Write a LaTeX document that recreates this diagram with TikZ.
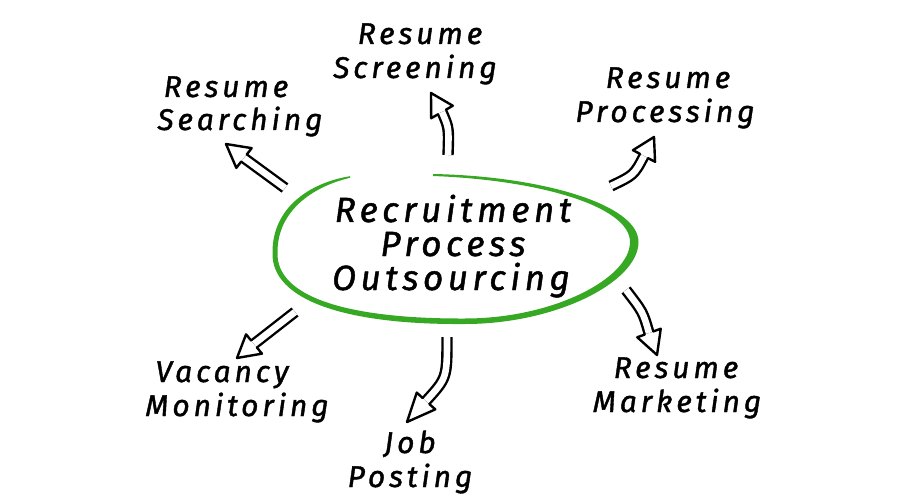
\documentclass[tikz,border=0pt]{standalone}
\usepackage{fontspec}
\newfontfamily\hand{Fira Sans}[LetterSpace=13,FakeBold=1.3]
\usetikzlibrary{calc}
\definecolor{ringgreen}{RGB}{55,168,35}
\tikzset{
  lbl/.style={font=\hand\itshape\fontsize{30}{30}\selectfont, anchor=base, inner sep=0pt},
  mainlbl/.style={font=\hand\itshape\fontsize{35}{35}\selectfont, anchor=base, inner sep=0pt},
  shaft/.style={draw=black, double=white, line width=2.4pt, double distance=6.6pt},
  head/.style={draw=black, line width=2.4pt, line join=round, line cap=round},
}
\newcommand{\hollowarrow}[4]{%
  \draw[shaft] (#1) .. controls (#2) .. (#3);
  \draw[head] ($(#3)!4.5pt!90:(#4)$) -- ($(#3)!12.5pt!90:(#4)$) -- (#4)
    -- ($(#3)!12.5pt!-90:(#4)$) -- ($(#3)!4.5pt!-90:(#4)$);
}
\begin{document}
\begin{tikzpicture}[x=1pt,y=-1pt]
\fill[white] (0,0) rectangle (900,500);
\path[use as bounding box] (0,0) rectangle (900,500);

% green ring (tapered open oval)
\fill[ringgreen]
 (433,174.0) .. controls (540,176.0) and (638.5,204) .. (638.5,242)
 .. controls (638.5,282) and (556,324) .. (465,324)
 .. controls (348,325) and (270.5,301) .. (272.5,252)
 .. controls (272.5,208.5) and (308.5,183.0) .. (350,176.2)
 -- (350,177.8) .. controls (311.5,187.0) and (277.5,211.5) .. (277.5,252)
 .. controls (275.5,298.5) and (352,319) .. (465,318.5)
 .. controls (553,318.5) and (630,278.5) .. (630,242)
 .. controls (630,206.5) and (540,180.0) .. (433,176.0)
 -- cycle;

% centre text
\node[mainlbl] (c1) at (453,222) {Recruitment};
\node[mainlbl] (c2) at (453,256) {Process};
\node[mainlbl] (c3) at (451,290) {Outsourcing};

% labels
\node[lbl] (scr1) at (420,44) {Resume};
\node[lbl] (scr2) at (415,78) {Screening};
\node[lbl] (sea1) at (226,97) {Resume};
\node[lbl] (sea2) at (240,130) {Searching};
\node[lbl] (pro1) at (668,88) {Resume};
\node[lbl] (pro2) at (665,122) {Processing};
\node[lbl] (vac1) at (222,382) {Vacancy};
\node[lbl] (vac2) at (237,416) {Monitoring};
\node[lbl] (job1) at (410,453) {Job};
\node[lbl] (job2) at (410,487) {Posting};
\node[lbl] (mar1) at (676,378) {Resume};
\node[lbl] (mar2) at (677,412) {Marketing};

% arrow coordinates
\coordinate (aT) at (285,188); \coordinate (aC) at (264,173); \coordinate (aB) at (244,158); \coordinate (aP) at (226,144);
\coordinate (bT) at (448,155); \coordinate (bC) at (449,128); \coordinate (bB) at (442,112); \coordinate (bP) at (431,93);
\coordinate (cT) at (611,186); \coordinate (cC) at (634,175); \coordinate (cB) at (644,156); \coordinate (cP) at (654,137);
\coordinate (dT) at (626,290); \coordinate (dC) at (643,312); \coordinate (dB) at (649,333); \coordinate (dP) at (657,355);
\coordinate (eT) at (447,337); \coordinate (eC) at (447,378); \coordinate (eB) at (426,401); \coordinate (eP) at (407,422);
\coordinate (fT) at (295,312); \coordinate (fC) at (275,328); \coordinate (fB) at (254,344); \coordinate (fP) at (237,358);

\hollowarrow{aT}{aC}{aB}{aP}
\hollowarrow{bT}{bC}{bB}{bP}
\hollowarrow{cT}{cC}{cB}{cP}
\hollowarrow{dT}{dC}{dB}{dP}
\hollowarrow{eT}{eC}{eB}{eP}
\hollowarrow{fT}{fC}{fB}{fP}
\end{tikzpicture}
\end{document}
